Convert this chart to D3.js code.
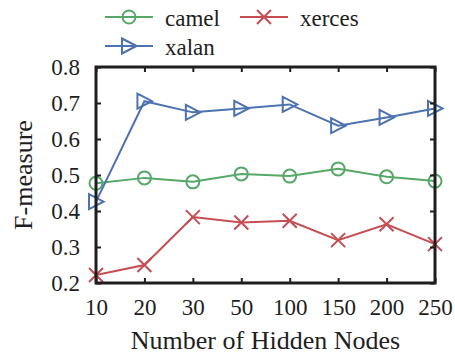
<!DOCTYPE html>
<meta charset=utf-8>
<style>
body { margin: 0; background: white }
svg { display: block }
</style>
<script src="https://cdn.jsdelivr.net/npm/d3@7/dist/d3.min.js"></script>
<body>
<svg width=455 height=354 id=chart></svg>
</body>
<script>
// values
const hiddenNodes = ["10", "20", "30", "50", "100", "150", "200", "250"];
const camel  = [0.477, 0.492, 0.481, 0.503, 0.497, 0.517, 0.495, 0.483];
const xerces = [0.222, 0.250, 0.383, 0.368, 0.373, 0.319, 0.363, 0.308];
const xalan  = [0.426, 0.705, 0.674, 0.685, 0.696, 0.637, 0.660, 0.685];
const yTicks = [0.2, 0.3, 0.4, 0.5, 0.6, 0.7, 0.8];

const series = [
	{name: "camel",  values: camel,  color: "#55a868", marker: "circle"},
	{name: "xerces", values: xerces, color: "#c44e52", marker: "cross"},
	{name: "xalan",  values: xalan,  color: "#4c72b0", marker: "triangle"},
];

const margin = {top: 67, right: 20, bottom: 71, left: 96},
	W = 455, H = 354;
const ink = "#1e1e1e";
const serif = "'Liberation Serif', 'DejaVu Serif', serif";

const svg = d3.select(chart);

const x = d3.scalePoint()
	.domain(hiddenNodes)
	.range([margin.left, W - margin.right]);
const y = d3.scaleLinear()
	.domain([0.2, 0.8])
	.range([H - margin.bottom, margin.top]);

function drawMarker(g, type, color) {
	g.attr("fill", "none").attr("stroke", color).attr("stroke-width", 2);
	if (type === "circle") {
		g.append("circle").attr("r", 6.5);
	} else if (type === "cross") {
		g.append("path").attr("d", "M-7,-7L7,7M-7,7L7,-7");
	} else {
		g.append("path").attr("d", "M7.5,0L-7,-7.5L-7,7.5Z");
	}
}

// series
for (const s of series) {
	svg.append("path")
		.datum(s.values)
		.attr("fill", "none")
		.attr("stroke", s.color)
		.attr("stroke-width", 2)
		.attr("d", d3.line().x((d, i) => x(hiddenNodes[i])).y(d => y(d)));
	svg.append("g")
		.selectAll("g")
		.data(s.values)
		.join("g")
			.attr("transform", (d, i) => `translate(${x(hiddenNodes[i])},${y(d)})`)
			.each(function () { drawMarker(d3.select(this), s.marker, s.color); });
}

// axes with inward ticks
function styleAxis(g) {
	g.select(".domain").remove();
	g.attr("font-family", serif).attr("font-size", 23);
	g.selectAll(".tick line").attr("stroke", ink).attr("stroke-width", 2);
	g.selectAll(".tick text").attr("fill", ink).attr("font-family", serif);
}
svg.append("g")
	.attr("transform", `translate(0,${H - margin.bottom})`)
	.call(d3.axisBottom(x).tickSizeInner(-5).tickSizeOuter(0).tickPadding(16))
	.call(styleAxis);
svg.append("g")
	.attr("transform", `translate(0,${margin.top})`)
	.call(d3.axisTop(x).tickSizeInner(-5).tickSizeOuter(0).tickFormat(""))
	.call(styleAxis);
svg.append("g")
	.attr("transform", `translate(${margin.left},0)`)
	.call(d3.axisLeft(y).tickValues(yTicks).tickFormat(d3.format(".1f")).tickSizeInner(-5).tickSizeOuter(0).tickPadding(16))
	.call(styleAxis);
svg.append("g")
	.attr("transform", `translate(${W - margin.right},0)`)
	.call(d3.axisRight(y).tickValues(yTicks).tickFormat("").tickSizeInner(-5).tickSizeOuter(0))
	.call(styleAxis);

// frame
svg.append("rect")
	.attr("x", margin.left)
	.attr("y", margin.top)
	.attr("width", W - margin.right - margin.left)
	.attr("height", H - margin.bottom - margin.top)
	.attr("fill", "none")
	.attr("stroke", ink)
	.attr("stroke-width", 3);

// axis titles
svg.append("text")
	.attr("x", (margin.left + W - margin.right) / 2)
	.attr("y", 349)
	.attr("text-anchor", "middle")
	.attr("font-family", serif)
	.attr("font-size", 26)
	.attr("fill", ink)
	.text("Number of Hidden Nodes");
svg.append("text")
	.attr("transform", `translate(32,${(margin.top + H - margin.bottom) / 2}) rotate(-90)`)
	.attr("text-anchor", "middle")
	.attr("font-family", serif)
	.attr("font-size", 26)
	.attr("fill", ink)
	.text("F-measure");

// legend
const legendPos = [[105, 17], [240, 17], [105, 46]];
series.forEach((s, i) => {
	const [lx, ly] = legendPos[i];
	const g = svg.append("g").attr("transform", `translate(${lx},${ly})`);
	g.append("line").attr("x1", 0).attr("x2", 48)
		.attr("stroke", s.color).attr("stroke-width", 2);
	drawMarker(g.append("g").attr("transform", "translate(24,0)"), s.marker, s.color);
	g.append("text")
		.attr("x", 60)
		.attr("y", 8.5)
		.attr("font-family", serif)
		.attr("font-size", 23)
		.attr("fill", ink)
		.text(s.name);
});
</script>
